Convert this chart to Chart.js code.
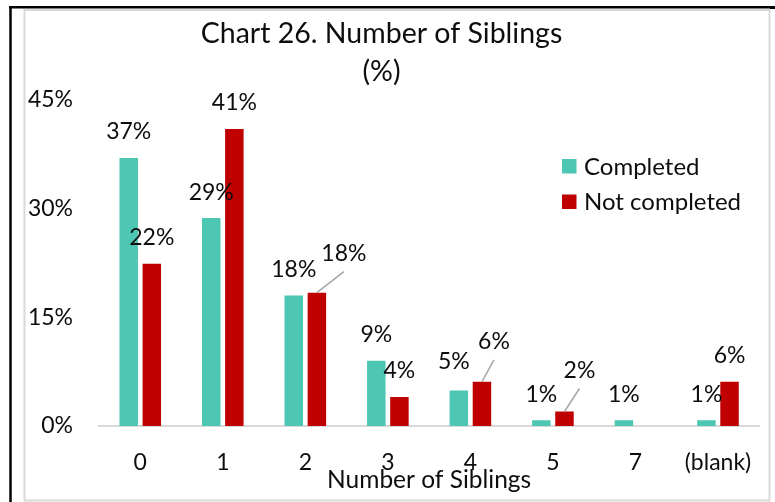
<!DOCTYPE html>
<html>
<head>
<meta charset="utf-8">
<script src="https://cdn.jsdelivr.net/npm/chart.js@4.4.1/dist/chart.umd.min.js"></script>
<style>
html,body{margin:0;padding:0;background:#fff;overflow:hidden}
#c{position:absolute;left:0;top:0}
</style>
</head>
<body>
<canvas id="c" width="775" height="502"></canvas>
<script>
// ---- data ----
const categories = ['0', '1', '2', '3', '4', '5', '7', '(blank)'];
const completed = [37.0, 28.7, 18.0, 9.0, 4.9, 0.8, 0.8, 0.8];
const notCompleted = [22.4, 41.0, 18.4, 4.0, 6.1, 2.0, null, 6.1];
const seriesNames = ['Completed', 'Not completed'];
const yTicks = [0, 15, 30, 45];

// label nudges (dataset index, point index) -> [dx, dy, leader]
const labelNudges = {
  '1-2': [27, -13, true],
  '0-4': [-5, -3, false],
  '1-4': [12, -14, true],
  '1-5': [15, -15, true]
};

const FONT = 'Lato';
const TEXT = '#0d0d0d';
const COLORS = ['#4DC6B3', '#C00000'];

const framePlugin = {
  id: 'frame',
  beforeDraw(chart) {
    const ctx = chart.ctx;
    ctx.save();
    ctx.fillStyle = '#fff';
    ctx.fillRect(0, 0, chart.width, chart.height);
    ctx.strokeStyle = '#D9D9D9';
    ctx.lineWidth = 2;
    ctx.strokeRect(24.5, 10, 745, 490.5);
    ctx.strokeStyle = '#000';
    ctx.lineWidth = 2.5;
    ctx.beginPath();
    ctx.moveTo(9, 7.3); ctx.lineTo(775, 7.3);
    ctx.moveTo(10.5, 6); ctx.lineTo(10.5, 502);
    ctx.stroke();
    ctx.fillStyle = '#000';
    ctx.fillRect(770, 6, 5, 3);
    ctx.restore();
  }
};

const labelPlugin = {
  id: 'barLabels',
  afterDatasetsDraw(chart) {
    const ctx = chart.ctx;
    ctx.save();
    ctx.font = '23px ' + FONT;
    ctx.fillStyle = TEXT;
    ctx.textAlign = 'center';
    ctx.textBaseline = 'middle';
    chart.data.datasets.forEach((ds, di) => {
      const meta = chart.getDatasetMeta(di);
      meta.data.forEach((el, i) => {
        const v = ds.data[i];
        if (v === null || v === undefined) return;
        const n = labelNudges[di + '-' + i] || [0, 0, false];
        const lx = el.x + n[0];
        const ly = el.y - 26 + n[1];
        if (n[2]) {
          ctx.strokeStyle = '#A6A6A6';
          ctx.lineWidth = 1.5;
          ctx.beginPath();
          ctx.moveTo(el.x, el.y);
          ctx.lineTo(lx, ly + 18);
          ctx.stroke();
        }
        ctx.fillText(Math.round(v) + '%', lx, ly);
      });
    });
    ctx.restore();
  }
};

const legendPlugin = {
  id: 'customLegend',
  afterDraw(chart) {
    const ctx = chart.ctx;
    ctx.save();
    ctx.font = '24px ' + FONT;
    ctx.textAlign = 'left';
    ctx.textBaseline = 'middle';
    seriesNames.forEach((name, i) => {
      const y = 166 + i * 35.5;
      ctx.fillStyle = COLORS[i];
      ctx.fillRect(562, y - 7, 14.5, 14.5);
      ctx.fillStyle = TEXT;
      ctx.fillText(name, 584, y + 1);
    });
    ctx.restore();
  }
};

new Chart(document.getElementById('c'), {
  type: 'bar',
  data: {
    labels: categories,
    datasets: [
      { label: seriesNames[0], data: completed, backgroundColor: COLORS[0],
        categoryPercentage: 0.56, barPercentage: 0.8 },
      { label: seriesNames[1], data: notCompleted, backgroundColor: COLORS[1],
        categoryPercentage: 0.56, barPercentage: 0.8 }
    ]
  },
  options: {
    responsive: false,
    animation: false,
    devicePixelRatio: 1,
    layout: { padding: { left: 0, right: 12, top: 0, bottom: 0 } },
    plugins: {
      legend: { display: false },
      tooltip: { enabled: false },
      title: {
        display: true,
        text: ['Chart 26. Number of Siblings', '(%)'],
        color: TEXT,
        font: { family: FONT, size: 28.5, weight: 'normal', lineHeight: '38px' },
        padding: { top: 15, bottom: 9 }
      }
    },
    scales: {
      x: {
        grid: { display: false, drawTicks: false },
        border: { display: true, color: '#D9D9D9', width: 2 },
        ticks: { color: TEXT, font: { family: FONT, size: 23 }, padding: 23, maxRotation: 0 },
        title: { display: true, text: 'Number of Siblings', color: TEXT,
                 font: { family: FONT, size: 24.5 }, padding: { top: 0, bottom: 7 } },
        afterFit(scale) { scale.height = 76; }
      },
      y: {
        min: 0, max: 45,
        grid: { display: false, drawTicks: false },
        border: { display: false },
        afterBuildTicks(scale) { scale.ticks = yTicks.map(v => ({ value: v })); },
        ticks: { color: TEXT, font: { family: FONT, size: 23 }, padding: 26,
                 callback: v => v + '%' },
        afterFit(scale) { scale.width = 99; }
      }
    }
  },
  plugins: [framePlugin, labelPlugin, legendPlugin]
});
</script>
</body>
</html>
